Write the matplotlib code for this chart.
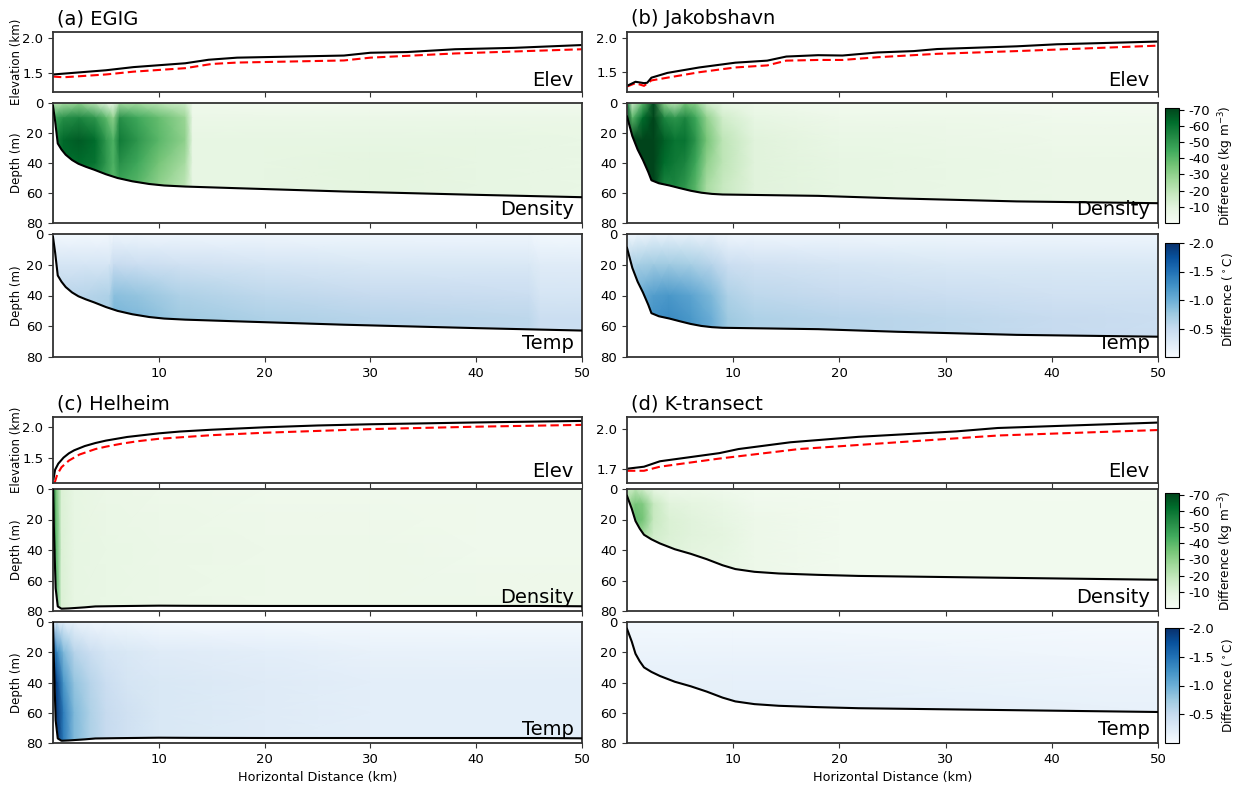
import numpy as np
import matplotlib
matplotlib.use("Agg")
import matplotlib.pyplot as plt

plt.rcParams['axes.unicode_minus'] = False
plt.rcParams['font.family'] = ['DejaVu Sans']

titles = ['(a) EGIG', '(b) Jakobshavn', '(c) Helheim', '(d) K-transect']

# ---- surface elevation (km): black = surface, red dashed = second profile
elev_x_a = [0, 5, 7.6, 12.5, 14.7, 17.4, 27.5, 30, 33.5, 38, 43.6, 50]
surf_a = [1.48, 1.54, 1.585, 1.64, 1.69, 1.72, 1.75, 1.79, 1.80, 1.84, 1.86, 1.90]
red_x_a = [0, 1, 2, 5, 7.6, 12.5, 15, 17.4, 27.5, 30, 38, 50]
red_a = [1.45, 1.44, 1.45, 1.48, 1.52, 1.57, 1.63, 1.65, 1.68, 1.72, 1.78, 1.84]

elev_x_b = [0, 0.8, 1.6, 1.9, 2.3, 3.8, 6.8, 10.2, 13.2, 15, 18, 20.3, 23.6, 27, 29.2, 36.7, 40.5, 50]
surf_b = [1.30, 1.36, 1.34, 1.345, 1.42, 1.49, 1.57, 1.64, 1.67, 1.73, 1.75, 1.745, 1.79, 1.81, 1.84, 1.88, 1.91, 1.95]
red_x_b = [0, 0.8, 1.6, 2.3, 3.8, 6.8, 10.2, 13.2, 15, 18, 20.3, 23.6, 29.2, 36.7, 50]
red_b = [1.29, 1.34, 1.30, 1.38, 1.42, 1.50, 1.57, 1.60, 1.67, 1.68, 1.68, 1.72, 1.77, 1.81, 1.89]

elev_x_c = [0.05, 0.2, 0.5, 1, 1.5, 2, 3, 4, 5, 6, 7, 8, 10, 12, 15, 20, 25, 30, 40, 50]
surf_c = [1.15, 1.3, 1.4, 1.5, 1.57, 1.62, 1.69, 1.74, 1.78, 1.81, 1.84, 1.86, 1.90,
          1.93, 1.96, 2.0, 2.03, 2.05, 2.08, 2.105]
red_x_c = [0.15, 0.4, 0.8, 1.5, 2.5, 4, 5, 6.5, 8, 10, 15, 20, 30, 40, 50]
red_c = [1.08, 1.22, 1.34, 1.45, 1.55, 1.64, 1.68, 1.73, 1.77, 1.81, 1.87, 1.91, 1.97, 2.01, 2.04]

elev_x_d = [0, 1.6, 3.1, 8.7, 10.5, 15.4, 21.8, 31, 34.9, 40.5, 50]
surf_d = [1.705, 1.72, 1.76, 1.82, 1.85, 1.90, 1.94, 1.98, 2.005, 2.02, 2.045]
red_x_d = [0, 1.6, 3.1, 8.7, 16.2, 25.5, 35, 50]
red_d = [1.69, 1.69, 1.72, 1.78, 1.85, 1.90, 1.95, 1.99]

elev_lims = [(1.23, 2.086), (1.21, 2.09), (1.08, 2.17), (1.60, 2.086)]
elev_ticks = [[1.5, 2.0], [1.5, 2.0], [1.5, 2.0], [1.7, 2.0]]

# ---- firn base depth (m)
firn_x_a = [0, 0.2, 0.45, 0.8, 1.2, 1.8, 2.4, 3.1, 3.9, 5, 6.1, 7.5, 9.1, 10.5, 12.5,
            17.4, 27.5, 39.9, 50]
firn_a = [2, 12, 27, 31, 34.5, 38, 40.5, 42.5, 44.5, 47.5, 50, 52.2, 54, 55, 55.7,
          56.8, 59, 61.2, 62.8]
firn_x_b = [0, 0.5, 1, 1.5, 2, 2.3, 3, 4, 5, 6, 7, 8, 9, 18, 25.5, 36.7, 50]
firn_b = [9, 22, 31, 38, 46, 51.5, 53.5, 55, 56.8, 58.5, 59.8, 60.6, 61, 61.9, 63.6,
          65.6, 66.8]
firn_x_c = [0, 0.1, 0.25, 0.45, 0.8, 1.5, 3, 4, 6, 10, 13, 20, 46, 50]
firn_c = [0, 30, 65, 77, 78.5, 78.3, 77.6, 77, 76.8, 76.5, 76.6, 76.7, 76.7, 76.9]
firn_x_d = [0, 0.45, 0.8, 1.2, 1.6, 2.3, 3.1, 4.5, 6, 7.5, 9, 10.2, 12, 14.3, 18,
            21.8, 33, 50]
firn_d = [4.5, 13, 21, 26, 30, 33, 35.7, 39.5, 42.5, 46, 50, 52.5, 54.3, 55.4, 56.3,
          57, 58, 59.5]

# ---- density difference (kg m-3), one column per x station
dens_x_a = [0, 1, 2.5, 4, 5, 5.7, 6.3, 8, 10, 12.5, 13.2, 20, 30, 40, 50]
dens_z_a = [0, 10, 25, 40, 55, 80]
dens_a = [[-20, -45, -55, -55, -55, -55], [-25, -52, -63, -62, -55, -55],
          [-30, -55, -66, -62, -55, -55], [-20, -50, -62, -60, -50, -50],
          [-10, -40, -50, -50, -45, -45], [-5, -30, -42, -42, -40, -40],
          [-25, -52, -58, -52, -45, -45], [-25, -45, -50, -45, -40, -40],
          [-20, -38, -40, -35, -30, -30], [-15, -28, -30, -25, -20, -20],
          [-4, -6, -8, -8, -8, -8], [-3, -6, -8, -8, -8, -8],
          [-3, -6, -8, -9, -9, -9], [-3, -6, -8, -8, -8, -8],
          [-3, -6, -7, -7, -7, -7]]

dens_x_b = [0, 0.5, 1.5, 2.5, 3.5, 4.5, 5.5, 6.5, 7.5, 9, 12, 20, 30, 40, 50]
dens_z_b = [0, 10, 25, 40, 55, 80]
dens_b = [[-60, -72, -75, -75, -75, -75], [-15, -40, -75, -75, -75, -75],
          [-40, -62, -75, -75, -75, -75], [-70, -72, -75, -75, -75, -75],
          [-30, -55, -65, -62, -55, -55], [-20, -50, -60, -58, -55, -55],
          [-35, -55, -60, -55, -50, -50], [-30, -45, -50, -45, -40, -40],
          [-15, -30, -35, -30, -25, -25], [-8, -15, -20, -20, -18, -18],
          [-5, -8, -10, -10, -10, -10], [-3, -5, -7, -8, -8, -8],
          [-3, -5, -6, -7, -7, -7], [-2, -4, -5, -6, -6, -6],
          [-2, -4, -5, -6, -6, -6]]

dens_x_c = [0, 0.3, 0.8, 2, 5, 10, 20, 30, 40, 50]
dens_z_c = [0, 40, 80]
dens_c = [[-70, -70, -70], [-35, -40, -40], [-12, -12, -12], [-8, -8, -8],
          [-6, -7, -7], [-5, -6, -6], [-4, -5, -5], [-4, -5, -5],
          [-4, -4, -5], [-4, -4, -5]]

dens_x_d = [0, 0.8, 1.5, 2.5, 4, 6, 9, 12, 20, 30, 40, 50]
dens_z_d = [0, 10, 20, 30, 45, 60, 80]
dens_d = [[-15, -25, -25, -25, -20, -20, -20], [-20, -35, -38, -30, -20, -15, -15],
          [-15, -33, -35, -25, -15, -12, -12], [-8, -18, -18, -15, -12, -10, -10],
          [-5, -10, -12, -12, -10, -8, -8], [-5, -9, -10, -10, -9, -8, -8],
          [-4, -7, -8, -9, -8, -7, -7], [-3, -4, -5, -5, -5, -5, -5],
          [-2, -3, -3, -3, -3, -3, -3], [-2, -3, -3, -3, -3, -3, -3],
          [-2, -3, -3, -3, -3, -3, -3], [-2, -3, -3, -3, -3, -3, -3]]

# ---- temperature difference (deg C)
temp_x_a = [0, 3, 5.3, 5.8, 8, 12, 20, 30, 45, 46, 50]
temp_z_a = [0, 20, 40, 55, 80]
temp_a = [[-0.05, -0.35, -0.55, -0.6, -0.6], [-0.05, -0.35, -0.6, -0.65, -0.65],
          [-0.05, -0.35, -0.65, -0.7, -0.7], [-0.1, -0.5, -0.85, -0.95, -0.95],
          [-0.1, -0.45, -0.8, -0.9, -0.9], [-0.1, -0.4, -0.65, -0.75, -0.75],
          [-0.1, -0.35, -0.55, -0.65, -0.65], [-0.1, -0.3, -0.5, -0.6, -0.6],
          [-0.1, -0.3, -0.45, -0.55, -0.55], [-0.05, -0.25, -0.35, -0.45, -0.45],
          [-0.05, -0.25, -0.35, -0.45, -0.45]]

temp_x_b = [0, 1, 2.5, 4, 6, 8, 9.5, 12, 20, 30, 40, 50]
temp_z_b = [0, 20, 40, 55, 80]
temp_b = [[-0.1, -0.6, -0.9, -1.0, -1.0], [-0.1, -0.7, -1.0, -1.1, -1.1],
          [-0.15, -0.75, -1.15, -1.25, -1.25], [-0.15, -0.75, -1.2, -1.3, -1.3],
          [-0.15, -0.7, -1.1, -1.2, -1.2], [-0.15, -0.6, -0.9, -1.0, -1.0],
          [-0.1, -0.45, -0.65, -0.75, -0.75], [-0.1, -0.4, -0.55, -0.65, -0.65],
          [-0.1, -0.35, -0.5, -0.6, -0.6], [-0.1, -0.3, -0.45, -0.55, -0.55],
          [-0.1, -0.3, -0.4, -0.5, -0.5], [-0.1, -0.3, -0.4, -0.45, -0.45]]

temp_x_c = [0, 0.4, 1, 2, 3.5, 5, 7, 10, 20, 30, 50]
temp_z_c = [0, 20, 40, 60, 80]
temp_c = [[-0.3, -1.6, -2.0, -2.0, -2.0], [-0.3, -1.3, -1.8, -1.9, -1.9],
          [-0.2, -0.9, -1.2, -1.4, -1.4], [-0.15, -0.6, -0.8, -0.9, -0.9],
          [-0.1, -0.45, -0.6, -0.65, -0.65], [-0.1, -0.35, -0.45, -0.5, -0.5],
          [-0.08, -0.3, -0.35, -0.4, -0.4], [-0.05, -0.25, -0.3, -0.3, -0.3],
          [-0.05, -0.2, -0.25, -0.25, -0.25], [-0.05, -0.15, -0.2, -0.2, -0.2],
          [-0.05, -0.15, -0.2, -0.2, -0.2]]

temp_x_d = [0, 10, 50]
temp_z_d = [0, 30, 60, 80]
temp_d = [[-0.05, -0.15, -0.2, -0.2], [-0.05, -0.15, -0.2, -0.2],
          [-0.03, -0.1, -0.15, -0.15]]

dens_ticks = [-70, -60, -50, -40, -30, -20, -10]
temp_ticks = [-2.0, -1.5, -1.0, -0.5]

W, H = 1243, 785


def box(x0, y0, x1, y1):
    return [x0 / W, 1 - y1 / H, (x1 - x0) / W, (y1 - y0) / H]


def style(ax):
    for s in ax.spines.values():
        s.set_color('#333333')
        s.set_linewidth(1.3)
    ax.tick_params(labelsize=9.5, color='#333333')
    ax.set_xlim(0, 50)
    ax.set_xticks([10, 20, 30, 40, 50])


def corner(ax, txt):
    ax.text(0.984, 0.03, txt, transform=ax.transAxes, ha='right', va='bottom',
            fontsize=14, zorder=5)


def draw_elev(ax, x, s, rx, r, lim, ticks, title):
    ax.plot(rx, r, color='red', ls='--', lw=1.5, dashes=(4, 2))
    ax.plot(x, s, color='black', lw=1.5)
    ax.set_ylim(lim)
    ax.set_yticks(ticks)
    ax.set_yticklabels(['%.1f' % t for t in ticks])
    style(ax)
    ax.tick_params(labelbottom=False)
    corner(ax, 'Elev')
    ax.text(0.008, 1.06, title, transform=ax.transAxes, ha='left', va='bottom',
            fontsize=14)


def draw_field(ax, gx, gz, cols, cmap, vmin, vmax, lx, ld, name, last):
    X, Z = np.meshgrid(gx, gz)
    C = np.array(cols).T
    m = ax.pcolormesh(X, Z, C, shading='gouraud', cmap=cmap, vmin=vmin, vmax=vmax,
                      zorder=1)
    ax.fill_between(lx, ld, 80, color='white', zorder=2, lw=0)
    ax.plot(lx, ld, color='black', lw=1.5, zorder=3)
    ax.set_ylim(80, 0)
    ax.set_yticks([0, 20, 40, 60, 80])
    style(ax)
    if not last:
        ax.tick_params(labelbottom=False)
    corner(ax, name)
    return m


fig = plt.figure(figsize=(W / 100, H / 100), dpi=100)

cols_x = [(53, 582), (627, 1158)]
rows_y = [[(32, 92), (103, 223), (234, 357)], [(417, 483), (489, 611), (622, 743)]]
cbar_y = [[(108, 223), (243, 357)], [(493, 608), (628, 743)]]

sites = [
    (elev_x_a, surf_a, red_x_a, red_a, firn_x_a, firn_a,
     dens_x_a, dens_z_a, dens_a, temp_x_a, temp_z_a, temp_a),
    (elev_x_b, surf_b, red_x_b, red_b, firn_x_b, firn_b,
     dens_x_b, dens_z_b, dens_b, temp_x_b, temp_z_b, temp_b),
    (elev_x_c, surf_c, red_x_c, red_c, firn_x_c, firn_c,
     dens_x_c, dens_z_c, dens_c, temp_x_c, temp_z_c, temp_c),
    (elev_x_d, surf_d, red_x_d, red_d, firn_x_d, firn_d,
     dens_x_d, dens_z_d, dens_d, temp_x_d, temp_z_d, temp_d),
]

for i, site in enumerate(sites):
    (ex, es, rx, rv, fx, fd, dx, dz, dv, tx, tz, tv) = site
    row, col = i // 2, i % 2
    x0, x1 = cols_x[col]
    (ya, yb), (yc, yd), (ye, yf) = rows_y[row]
    ax_e = fig.add_axes(box(x0, ya, x1, yb))
    ax_d = fig.add_axes(box(x0, yc, x1, yd))
    ax_t = fig.add_axes(box(x0, ye, x1, yf))

    draw_elev(ax_e, ex, es, rx, rv, elev_lims[i], elev_ticks[i], titles[i])
    md = draw_field(ax_d, dx, dz, dv, 'Greens_r', -71, 0, fx, fd, 'Density', False)
    mt = draw_field(ax_t, tx, tz, tv, 'Blues_r', -2.0, 0, fx, fd, 'Temp', True)
    if row == 1:
        ax_t.set_xlabel('Horizontal Distance (km)', fontsize=9.2)

    if col == 0:
        ax_e.set_ylabel('Elevation (km)', fontsize=8.5)
        ax_e.yaxis.set_label_coords(-0.057, 0.5)
        for a in (ax_d, ax_t):
            a.set_ylabel('Depth (m)', fontsize=8.5)
            a.yaxis.set_label_coords(-0.057, 0.5)
    else:
        (c0, c1), (c2, c3) = cbar_y[row]
        cax1 = fig.add_axes(box(1165, c0, 1179, c1))
        cb1 = fig.colorbar(md, cax=cax1, ticks=dens_ticks)
        cb1.ax.invert_yaxis()
        cb1.ax.set_yticklabels(['%d' % t for t in dens_ticks])
        cb1.ax.tick_params(labelsize=9.5)
        cb1.set_label(r'Difference (kg m$^{-3}$)', fontsize=8.7)
        cax2 = fig.add_axes(box(1165, c2, 1179, c3))
        cb2 = fig.colorbar(mt, cax=cax2, ticks=temp_ticks)
        cb2.ax.invert_yaxis()
        cb2.ax.set_yticklabels(['%.1f' % t for t in temp_ticks])
        cb2.ax.tick_params(labelsize=9.5)
        cb2.set_label(r'Difference ($^\circ$C)', fontsize=8.7)

fig.savefig('out.png', dpi=100)
